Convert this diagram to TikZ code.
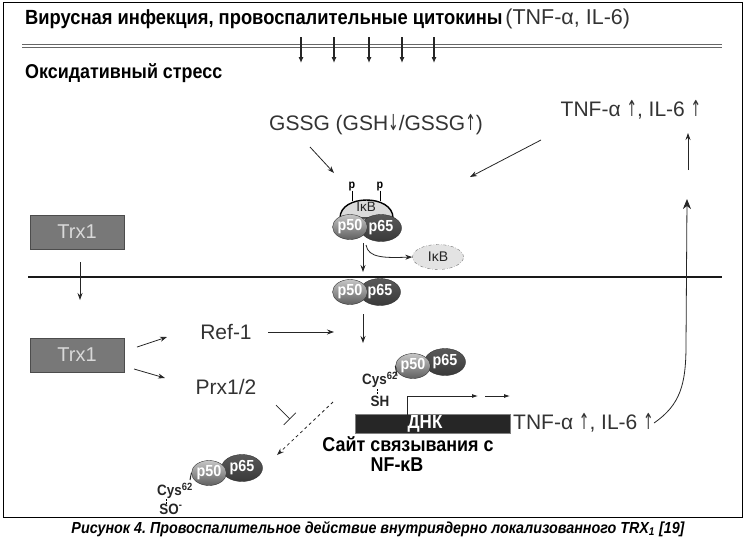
\documentclass[tikz,border=0pt]{standalone}
\usepackage{fontspec}
\usepackage{graphicx}
\setmainfont{Liberation Sans}
\newfontfamily\cond[FakeStretch=0.895]{Liberation Sans}
\newfontfamily\dejavu{DejaVu Sans}
\usetikzlibrary{arrows.meta,shapes.geometric}
\definecolor{txt}{HTML}{333333}
\definecolor{boxfill}{HTML}{787878}
\newcommand{\uparr}{\ \scalebox{0.6}[1.05]{\dejavu ↑}}
\newcommand{\dnarr}{\scalebox{0.6}[1.05]{\dejavu ↓}}
\frenchspacing
\tikzset{
  lbl/.style={inner sep=0pt, text=txt, font=\fontsize{21}{24}\selectfont},
  bld/.style={inner sep=0pt, text=black, font=\cond\bfseries\fontsize{20}{24}\selectfont},
  trxbox/.style={draw=black!70, fill=boxfill, minimum width=94pt, minimum height=34pt, inner sep=0pt,
     text=black!15, font=\fontsize{20}{24}\selectfont},
  pfifty/.style={ellipse, draw=black!80, top color=gray!45, bottom color=gray!75!black, inner sep=0pt,
     minimum width=29pt, minimum height=25pt, text=white, font=\cond\bfseries\fontsize{16}{17}\selectfont},
  psixty/.style={ellipse, draw=black!80, top color=gray!70!black, bottom color=gray!45!black, inner sep=0pt,
     minimum width=41pt, minimum height=27pt, text=white, font=\cond\bfseries\fontsize{16}{17}\selectfont},
  small/.style={inner sep=0pt, text=black!85, font=\cond\bfseries\fontsize{15}{16}\selectfont},
  arr/.style={-{Stealth[length=7pt,width=5pt]}, line width=0.8pt, black!85},
  bigarr/.style={-{Stealth[length=10pt,width=8pt,inset=3pt]}, line width=0.8pt, black!85},
  thin/.style={line width=0.7pt, black!85},
}
\begin{document}
\begin{tikzpicture}[x=1pt,y=-1pt]
\useasboundingbox (0,0) rectangle (746,542);
% frame
\draw[line width=1pt] (3,2) rectangle (742,517);
% top
\node[anchor=west, inner sep=0pt] (top) at (25,19) {{\cond\bfseries\fontsize{20.5}{24}\selectfont Вирусная инфекция, провоспалительные цитокины} {\color{txt}\fontsize{21.5}{24}\selectfont(TNF-α, IL-6)}};
\coordinate (dl1) at (22,46); \coordinate (dl2) at (722,46);
\draw[double=white, double distance=1.4pt, line width=1.3pt, black!60] (dl1) -- (dl2);
\foreach \x [count=\i] in {301,334,369,402,434} {
  \coordinate (ds\i) at (\x,37); \coordinate (de\i) at (\x,63);
  \draw[-{Latex[length=6pt,width=5pt]}, line width=1.1pt, black!85] (ds\i) -- (de\i);
}
\node[bld, anchor=west] (oxid) at (25,73) {Оксидативный стресс};
% GSSG and TNF top
\node[lbl] (gssg) at (376,125) {GSSG (GSH\dnarr/GSSG\scalebox{0.6}[1.05]{\dejavu ↑})};
\node[lbl] (tnftop) at (631,110) {TNF-α\uparr, IL-6\uparr};
\coordinate (g1) at (310,147); \coordinate (g2) at (334,173);
\draw[arr] (g1) -- (g2);
\coordinate (t1) at (541,140); \coordinate (t2) at (470,177);
\draw[arr] (t1) -- (t2);
\coordinate (u1) at (688,170); \coordinate (u2) at (688,133);
\draw[arr] (u1) -- (u2);
% IkB complex (cytoplasm)
\draw[fill=gray!28, line width=1.4pt] (340,218) .. controls (340,194) and (393,194) .. (393,218) -- cycle;
\node[inner sep=0pt, font=\fontsize{13.5}{14}\selectfont, text=black!85] (ikb) at (366,207) {IκB};
\node[inner sep=0pt, font=\cond\bfseries\fontsize{12}{13}\selectfont] (pa) at (352,186) {p};
\node[inner sep=0pt, font=\cond\bfseries\fontsize{12}{13}\selectfont] (pb) at (380,186) {p};
\coordinate (pa2) at (352,201); \coordinate (pb2) at (380,201);
\draw[line width=1pt] (pa.south) -- (pa2);
\draw[line width=1pt] (pb.south) -- (pb2);
\node[psixty] (c1b) at (381,228) {p65};
\node[pfifty] (c1a) at (350,227) {p50};
\coordinate (c1s) at (363,243); \coordinate (c1e) at (363,272);
\draw[arr] (c1s) -- (c1e);
\node[ellipse, draw=black!55, dash dot, fill=gray!22, minimum width=51pt, minimum height=25pt, inner sep=0pt,
  font=\fontsize{14}{15}\selectfont, text=black!85] (ikbfree) at (438,257) {IκB};
\coordinate (cv1) at (366,245);
\draw[arr] (cv1) .. controls (368,258) and (385,258) .. (ikbfree.west);
% nucleus membrane
\coordinate (m1) at (28,277); \coordinate (m2) at (722,277);
\draw[line width=2.6pt, black!90] (m1) -- (m2);
% lower complex
\node[psixty] (c2b) at (380,292) {p65};
\node[pfifty] (c2a) at (350,292) {p50};
\coordinate (c2s) at (363,314); \coordinate (c2e) at (363,343);
\draw[arr] (c2s) -- (c2e);
% Trx1 boxes
\node[trxbox] (trx1) at (77,232) {Trx1};
\node[trxbox] (trx2) at (77,355) {Trx1};
\coordinate (tr1) at (80,262); \coordinate (tr2) at (80,300);
\draw[arr] (tr1) -- (tr2);
\node[lbl] (ref) at (226,332) {Ref-1};
\node[lbl] (prx) at (226,387) {Prx1/2};
\coordinate (r1) at (137,347); \coordinate (r2) at (167,337);
\draw[arr] (r1) -- (r2);
\coordinate (p1) at (134,369); \coordinate (p2) at (165,378);
\draw[arr] (p1) -- (p2);
\coordinate (rf1) at (268,332); \coordinate (rf2) at (334,332);
\draw[arr] (rf1) -- (rf2);
% Cys-SH complex
\node[psixty] (c3b) at (445,362) {p65};
\node[pfifty] (c3a) at (413,366) {p50};
\node[small, anchor=west] (cys1) at (362,380) {Cys\textsuperscript{62}};
\node[small] (sh) at (380,401) {SH};
\coordinate (l1) at (397,376);
\draw[line width=1pt, black!85] (l1) -- (c3a.west);
\coordinate (sh1) at (377,389); \coordinate (sh2) at (377,395);
\draw[line width=0.9pt, dash pattern=on 2pt off 1pt] (sh1) -- (sh2);
% DNA
\node[draw=black!50, fill=black!85, minimum width=155pt, minimum height=19pt, inner sep=0pt] (dna) at (432.5,424) {};
\node[inner sep=0pt, text=white, font=\cond\bfseries\fontsize{19}{20}\selectfont] (dnat) at (425,424) {ДНК};
\coordinate (tx0) at (407,415); \coordinate (tx1) at (478,396);
\draw[arr, -{Latex[length=6pt,width=4pt]}] (tx0) |- (tx1);
\coordinate (tx2) at (485,396); \coordinate (tx3) at (510,396);
\draw[arr, -{Latex[length=6pt,width=4pt]}] (tx2) -- (tx3);
\node[lbl, anchor=west] (tnfbot) at (513,423) {TNF-α\uparr, IL-6\uparr};
\node[bld] (site1) at (408,444) {Сайт связывания с};
\node[bld] (site2) at (397,465) {NF-κB};
% long curve
\coordinate (lc1) at (686,345); \coordinate (lc2) at (687,199);
\draw[bigarr] (tnfbot.east) .. controls (680,405) and (686,385) .. (lc1) -- (lc2);
% inhibition and oxidation
\coordinate (ib1) at (276,405); \coordinate (ib2) at (290,419);
\draw[thin, -{Bar[width=17pt]}] (ib1) -- (ib2);
\coordinate (da1) at (333,402); \coordinate (da2) at (277,455);
\draw[arr, dashed] (da1) -- (da2);
% Cys-SO- complex
\node[psixty] (c4b) at (242,468) {p65};
\node[pfifty] (c4a) at (209,473) {p50};
\node[small, anchor=west] (cys2) at (157,491) {Cys\textsuperscript{62}};
\node[small] (so) at (171,509) {SO\textsuperscript{-}};
\coordinate (l3) at (190,480);
\draw[line width=1pt, black!85] (l3) -- (c4a.west);
\coordinate (so1) at (166,499); \coordinate (so2) at (166,504);
\draw[line width=0.9pt, dash pattern=on 2pt off 1pt] (so1) -- (so2);
% caption
\node[inner sep=0pt, font=\cond\bfseries\itshape\fontsize{16}{18}\selectfont] (cap) at (378,529) {Рисунок 4. Провоспалительное действие внутриядерно локализованного TRX\textsubscript{1} [19]};
\end{tikzpicture}
\end{document}
